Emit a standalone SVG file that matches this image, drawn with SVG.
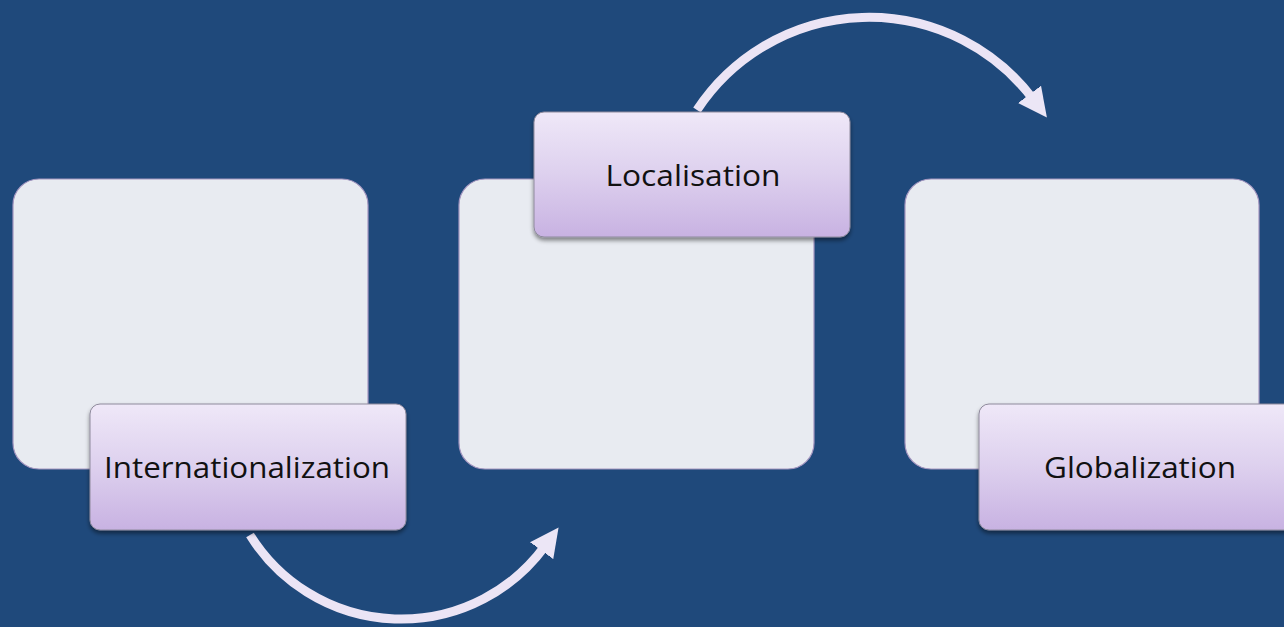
<svg xmlns="http://www.w3.org/2000/svg" width="1284" height="627" viewBox="0 0 1284 627">
<defs>
<linearGradient id="lab" x1="0" y1="0" x2="0" y2="1">
<stop offset="0" stop-color="#efe8f8"/>
<stop offset="0.5" stop-color="#ddd0ee"/>
<stop offset="1" stop-color="#c8b2e2"/>
</linearGradient>
<filter id="sh" x="-10%" y="-10%" width="120%" height="130%">
<feDropShadow dx="0" dy="3" stdDeviation="2" flood-color="#000" flood-opacity="0.45"/>
</filter>
<marker id="ah" viewBox="0 0 10 10" refX="2" refY="5" markerWidth="3.2" markerHeight="3.2" orient="auto" markerUnits="strokeWidth">
<path d="M0,0 L10,5 L0,10 Z" fill="#ece6f6"/>
</marker>
</defs>
<style>
.big{fill:#e8ebf1;stroke:#a496c0;stroke-width:1.2}
.lab{fill:url(#lab);stroke:#8e8a9c;stroke-width:1;filter:url(#sh)}
.t{font-family:"Open Sans","Noto Sans",sans-serif;font-size:30px;fill:#111;text-anchor:middle}
.c{fill:none;stroke:#ebe4f5;stroke-width:9}
</style>
<rect width="1284" height="627" fill="#1f497b"/>
<g id="connectors">
<path class="c" d="M250,535 A178,178 0 0 0 545,546" marker-end="url(#ah)"/>
<path class="c" d="M697,110 A205.7,205.7 0 0 1 1033,99" marker-end="url(#ah)"/>
</g>
<g id="node-internationalization">
<rect class="big" x="13" y="179" width="355" height="290" rx="26"/>
<rect class="lab" x="90" y="404" width="316" height="126" rx="10"/>
<text class="t" x="247" y="478" textLength="286" lengthAdjust="spacingAndGlyphs">Internationalization</text>
</g>
<g id="node-localisation">
<rect class="big" x="459" y="179" width="355" height="290" rx="26"/>
<rect class="lab" x="534" y="112" width="316" height="125" rx="10"/>
<text class="t" x="693" y="186" textLength="175" lengthAdjust="spacingAndGlyphs">Localisation</text>
</g>
<g id="node-globalization">
<rect class="big" x="905" y="179" width="354" height="290" rx="26"/>
<rect class="lab" x="979" y="404" width="316" height="126" rx="10"/>
<text class="t" x="1140" y="478" textLength="192" lengthAdjust="spacingAndGlyphs">Globalization</text>
</g>
</svg>
